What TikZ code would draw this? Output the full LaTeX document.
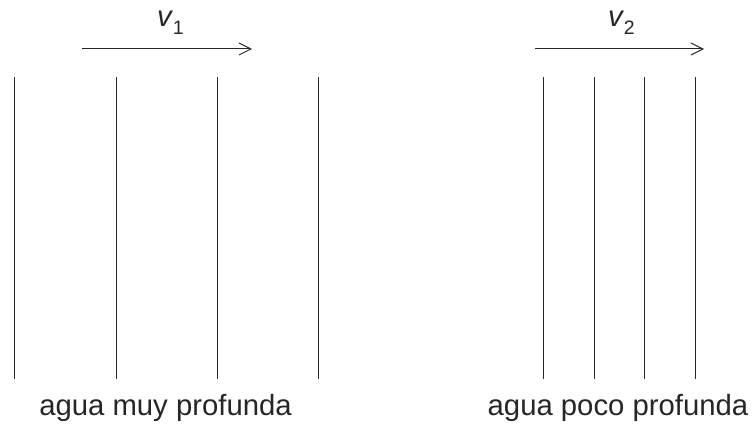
\documentclass[tikz,border=0pt]{standalone}
\usepackage{fontspec}
\setmainfont{Liberation Sans}
\usetikzlibrary{arrows.meta}
\newcommand{\velsym}[1]{{\itshape v}\kern1pt\raisebox{-8pt}{\fontsize{19.5}{20}\selectfont #1}}
\begin{document}
\begin{tikzpicture}[x=1pt,y=1pt,
  crest/.style={line width=1pt, black!85},
  vel/.style={line width=1pt, black!85, -{Straight Barb[length=12pt,width=12pt,line width=1pt]}},
  lbl/.style={inner sep=0pt, anchor=base, font=\fontsize{29.3}{31}\selectfont, text=black!85}]
\useasboundingbox (0,0) rectangle (754,426);
% left crests
\foreach \i/\x in {1/14,2/116,3/217,4/318}{
  \coordinate (lt\i) at (\x,349);
  \coordinate (lb\i) at (\x,47);
  \draw[crest] (lt\i) -- (lb\i);
}
% right crests
\foreach \i/\x in {1/543,2/594,3/644,4/695}{
  \coordinate (rt\i) at (\x,349);
  \coordinate (rb\i) at (\x,47);
  \draw[crest] (rt\i) -- (rb\i);
}
% arrows
\coordinate (a1s) at (82,377);
\coordinate (a1e) at (252,377);
\coordinate (a2s) at (535,377);
\coordinate (a2e) at (704,377);
\draw[vel] (a1s) -- (a1e);
\draw[vel] (a2s) -- (a2e);
% labels
\node[lbl, anchor=base west] (v1) at (157,399) {\velsym{1}};
\node[lbl, anchor=base west] (v2) at (608,399) {\velsym{2}};
\node[lbl] (t1) at (165.5,11) {agua muy profunda};
\node[lbl] (t2) at (618,11) {agua poco profunda};
\end{tikzpicture}
\end{document}
